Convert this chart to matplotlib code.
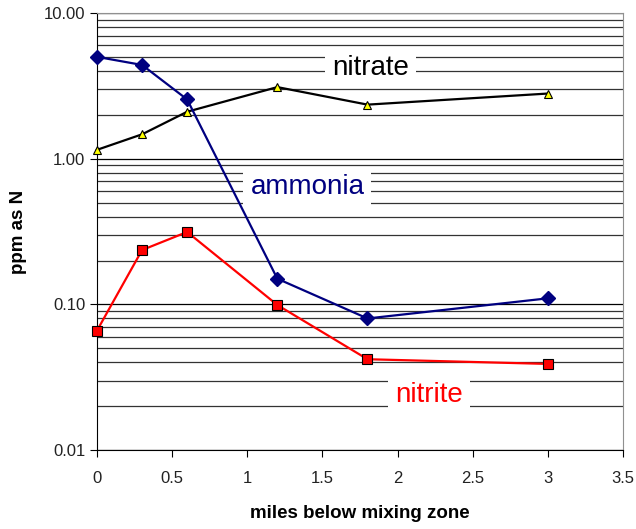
import numpy as np
import matplotlib
import matplotlib.pyplot as plt
from matplotlib.ticker import LogLocator, FixedLocator, FormatStrFormatter

matplotlib.use('Agg')

plt.rcParams['font.family'] = ['Liberation Sans', 'DejaVu Sans']

# data
miles = [0, 0.3, 0.6, 1.2, 1.8, 3.0]
ammonia = [5.0, 4.4, 2.55, 0.15, 0.08, 0.11]
nitrate = [1.15, 1.47, 2.1, 3.1, 2.35, 2.8]
nitrite = [0.066, 0.236, 0.314, 0.099, 0.042, 0.039]

y_ticks = [0.01, 0.1, 1, 10]
x_ticks = [0, 0.5, 1, 1.5, 2, 2.5, 3, 3.5]


def main():
    fig = plt.figure(figsize=(6.36, 5.29), dpi=100)
    ax = fig.add_axes([0.1525, 0.1493, 0.827, 0.8261])

    ax.set_yscale('log')
    ax.set_ylim(0.01, 10)
    ax.set_xlim(0, 3.5)

    # horizontal gridlines at every decade step
    ax.yaxis.set_major_locator(FixedLocator(y_ticks))
    ax.yaxis.set_minor_locator(LogLocator(base=10, subs=np.arange(2, 10), numticks=20))
    ax.yaxis.set_major_formatter(FormatStrFormatter('%.2f'))
    ax.yaxis.set_minor_formatter(plt.NullFormatter())
    ax.grid(True, which='major', axis='y', color='black', lw=0.9, zorder=0)
    ax.grid(True, which='minor', axis='y', color='#333333', lw=0.9, zorder=0)
    ax.tick_params(axis='y', which='minor', length=0)
    ax.set_xticks(x_ticks)
    ax.set_xticklabels(['0', '0.5', '1', '1.5', '2', '2.5', '3', '3.5'])
    ax.tick_params(axis='both', which='major', direction='out', length=5,
                   labelsize=12, color='black', labelcolor='#222222')
    ax.tick_params(axis='x', pad=10)

    ax.plot(miles, nitrate, color='black', lw=1.6, marker='^', ms=6,
            mfc='#ffff00', mec='black', mew=0.8, zorder=3, clip_on=False)
    ax.plot(miles, ammonia, color='#000080', lw=1.6, marker='D', ms=7,
            mfc='#000080', mec='#000080', zorder=4, clip_on=False)
    ax.plot(miles, nitrite, color='#ff0000', lw=1.6, marker='s', ms=7,
            mfc='#ff0000', mec='black', mew=0.8, zorder=5, clip_on=False)

    box = dict(facecolor='white', edgecolor='none', pad=5)
    ax.text(1.82, 4.2, 'nitrate', fontsize=20, color='black', ha='center',
            va='center', bbox=box, zorder=6)
    ax.text(1.4, 0.64, 'ammonia', fontsize=20, color='#000080', ha='center',
            va='center', bbox=box, zorder=6)
    ax.text(2.21, 0.0237, 'nitrite', fontsize=20, color='#ff0000', ha='center',
            va='center', bbox=box, zorder=6)

    for side in ['top', 'right']:
        ax.spines[side].set_color('#909090')
    for side in ['left', 'bottom']:
        ax.spines[side].set_color('black')

    ax.set_xlabel('miles below mixing zone', fontsize=13.5, fontweight='bold', labelpad=14)
    ax.set_ylabel('ppm as N', fontsize=13.5, fontweight='bold', labelpad=12)

    fig.savefig('out.png', dpi=100)
    plt.close(fig)


if __name__ == "__main__":
    main()
